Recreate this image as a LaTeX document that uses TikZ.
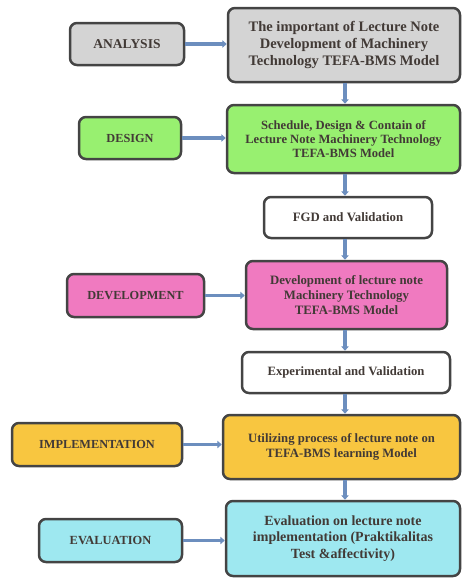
\documentclass[tikz,border=0pt]{standalone}
\usepackage{fontspec}
\setmainfont{Liberation Serif}[BoldFont={Liberation Serif Bold}]
\usetikzlibrary{arrows.meta}
\definecolor{bordc}{RGB}{68,68,68}
\definecolor{txtc}{RGB}{66,58,54}
\definecolor{arrc}{RGB}{108,142,190}
\definecolor{grayf}{RGB}{212,212,212}
\definecolor{greenf}{RGB}{152,240,112}
\definecolor{pinkf}{RGB}{240,122,192}
\definecolor{orangef}{RGB}{248,198,64}
\definecolor{cyanf}{RGB}{158,232,240}
\definecolor{whitef}{RGB}{255,255,255}
\tikzset{
  box/.style={draw=bordc, line width=2.5pt, rounded corners=7pt, inner sep=0pt,
    align=center, text=txtc},
  arr/.style={draw=arrc, line width=3.2pt, -{Triangle[length=4.5pt,width=7.5pt]}},
}
\newcommand{\fsz}[2]{\rmfamily\bfseries\fontsize{#1}{#2}\selectfont}
\begin{document}
\begin{tikzpicture}[x=1pt,y=-1pt]
\useasboundingbox (0,0) rectangle (462,579);
% left labels
\node[box, fill=grayf, minimum width=114, minimum height=42, font=\fsz{13.5}{16}] (an) at (127,44) {ANALYSIS};
\node[box, fill=greenf, minimum width=102, minimum height=42, font=\fsz{12.3}{15}] (de) at (130,138) {DESIGN};
\node[box, fill=pinkf, minimum width=137, minimum height=43, font=\fsz{12.3}{15}] (dv) at (135.5,295.5) {DEVELOPMENT};
\node[box, fill=orangef, minimum width=170, minimum height=43, font=\fsz{12.3}{15}] (im) at (97,444.5) {IMPLEMENTATION};
\node[box, fill=cyanf, minimum width=143, minimum height=43, font=\fsz{12.4}{15}] (ev) at (110.5,540.5) {EVALUATION};
% main column
\node[box, fill=grayf, minimum width=232, minimum height=74, font=\fsz{14.5}{16.7}] (anm) at (344,45)
  {The important of Lecture Note\\Development of Machinery\\Technology TEFA-BMS Model};
\node[box, fill=greenf, minimum width=233, minimum height=68, font=\fsz{12.6}{14.2}] (dem) at (343.5,139)
  {Schedule, Design \& Contain of\\Lecture Note Machinery Technology\\TEFA-BMS Model};
\node[box, fill=whitef, minimum width=168, minimum height=41, font=\fsz{12.8}{15}] (fgd) at (348,217.5)
  {FGD and Validation};
\node[box, fill=pinkf, minimum width=201, minimum height=68, font=\fsz{12.8}{14.7}] (dvm) at (346.5,295)
  {Development of lecture note\\Machinery Technology\\TEFA-BMS Model};
\node[box, fill=whitef, minimum width=208, minimum height=41, font=\fsz{12.7}{15}] (ex) at (346,372.5)
  {Experimental and Validation};
\node[box, fill=orangef, minimum width=237, minimum height=64, font=\fsz{12.7}{15}] (imm) at (341.5,447)
  {Utilizing process of lecture note on\\TEFA-BMS learning Model};
\node[box, fill=cyanf, minimum width=234, minimum height=75, font=\fsz{14}{16.2}] (evm) at (343,538.5)
  {Evaluation on lecture note\\implementation (Praktikalitas\\Test \&affectivity)};
% horizontal arrows
\draw[arr] (an.east) -- (an.east -| anm.west);
\draw[arr] (de.east) -- (de.east -| dem.west);
\draw[arr] (dv.east) -- (dv.east -| dvm.west);
\draw[arr] (im.east) -- (im.east -| imm.west);
\draw[arr] (ev.east) -- (ev.east -| evm.west);
% vertical arrows
\coordinate (vx) at (345,0);
\draw[arr] (anm.south -| vx) -- (dem.north -| vx);
\draw[arr] (dem.south -| vx) -- (fgd.north -| vx);
\draw[arr] (fgd.south -| vx) -- (dvm.north -| vx);
\draw[arr] (dvm.south -| vx) -- (ex.north -| vx);
\draw[arr] (ex.south -| vx) -- (imm.north -| vx);
\draw[arr] (imm.south -| vx) -- (evm.north -| vx);
\end{tikzpicture}
\end{document}
